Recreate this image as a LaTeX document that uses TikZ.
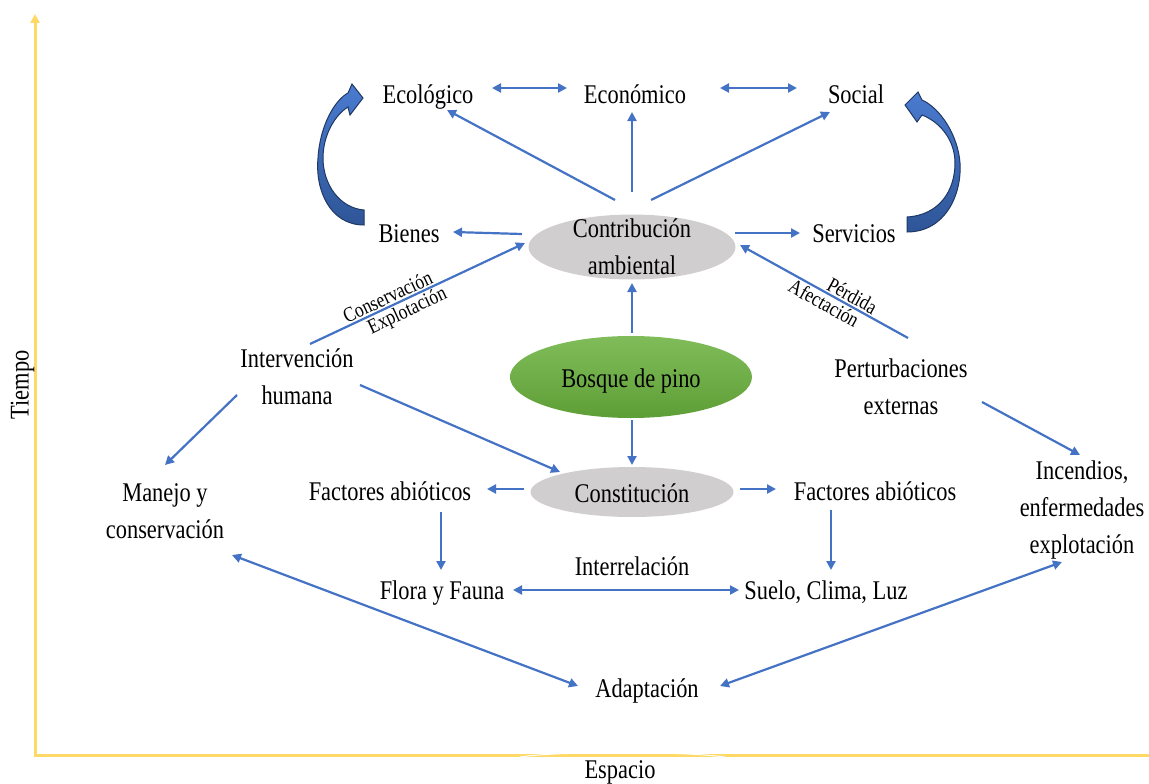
\documentclass[tikz,border=0pt]{standalone}
\usepackage{fontspec}
\setmainfont{Liberation Serif}[FakeStretch=0.83]
\usetikzlibrary{arrows.meta,calc,shapes.geometric}
\definecolor{arrblue}{HTML}{4472C4}
\definecolor{axisyel}{HTML}{FFD966}
\definecolor{ellgray}{HTML}{D0CECE}
\definecolor{darkblue}{HTML}{203864}
\definecolor{blockA}{HTML}{4A7BD0}
\definecolor{blockB}{HTML}{2E5597}
\definecolor{greenA}{HTML}{80BD5A}
\definecolor{greenB}{HTML}{5E9E36}
\begin{document}
\begin{tikzpicture}[x=1pt,y=-1pt,
  lbl/.style={font=\fontsize{27}{37}\selectfont, inner sep=0pt, text height=19pt, text depth=6pt},
  mlbl/.style={font=\fontsize{27}{37}\selectfont, inner sep=0pt, align=center},
  small/.style={font=\fontsize{21}{24}\selectfont, inner sep=1.5pt, sloped},
  arr/.style={draw=arrblue, line width=2.2pt, -{Triangle[length=9pt,width=9pt]}},
  darr/.style={draw=arrblue, line width=2.2pt, {Triangle[length=9pt,width=9pt]}-{Triangle[length=9pt,width=9pt]}},
  oval/.style={ellipse, inner sep=0pt, draw=none},
  axis/.style={draw=axisyel, line width=3pt},
  bigarrow/.style={draw=darkblue, line width=1pt, top color=blockA, bottom color=blockB}
]
\useasboundingbox (0,0) rectangle (1149,784);

% axes
\coordinate (origin) at (35,755);
\coordinate (ytop) at (35,14);
\coordinate (xend) at (1149,755);
\draw[axis, -{Triangle[length=9pt,width=9pt]}] (origin) -- (ytop);
\draw[axis] ($(origin)+(-1.5,0)$) -- (xend);
\draw[white, line width=1pt] (520,757) .. controls (560,751) and (680,751) .. (725,757);
\node[lbl, rotate=90] (tiempo) at (22,385) {Tiempo};
\node[lbl] (espacio) at (620,771.5) {Espacio};

% ellipses
\node[oval, fill=ellgray, minimum width=207pt, minimum height=65pt] (contrib) at (632,247) {};
\node[mlbl] (contribtxt) at (632,246.5) {Contribución\\ambiental};
\node[oval, top color=greenA, bottom color=greenB, minimum width=242pt, minimum height=82pt] (bosque) at (631,377) {};
\node[lbl] (bosquetxt) at (631,380.5) {Bosque de pino};
\node[oval, fill=ellgray, minimum width=203pt, minimum height=50pt] (const) at (632,492) {};
\node[lbl] (consttxt) at (632,495.5) {Constitución};

% text nodes
\node[lbl] (eco) at (428,96.5) {Ecológico};
\node[lbl] (econ) at (635,96.5) {Económico};
\node[lbl] (social) at (856,96.5) {Social};
\node[lbl] (bienes) at (409,235.5) {Bienes};
\node[lbl] (serv) at (854,235.5) {Servicios};
\node[mlbl] (interv) at (297,376.5) {Intervención\\humana};
\node[mlbl] (pert) at (901,386.5) {Perturbaciones\\externas};
\node[mlbl] (manejo) at (165,511) {Manejo y\\conservación};
\node[lbl] (facL) at (390,493.5) {Factores abióticos};
\node[lbl] (facR) at (875,493.5) {Factores abióticos};
\node[mlbl] (incend) at (1082,510) {Incendios,\\enfermedades\\explotación};
\node[lbl] (flora) at (442,592.5) {Flora y Fauna};
\node[lbl] (interrel) at (632,568.5) {Interrelación};
\node[lbl] (suelo) at (826,592.5) {Suelo, Clima, Luz};
\node[lbl] (adapt) at (647,690.5) {Adaptación};

% connectors
\draw[darr] ($(eco)+(64,-8.5)$) -- ($(econ)+(-68,-8.5)$);
\draw[darr] ($(econ)+(85,-8.5)$) -- ($(social)+(-59,-8.5)$);
\draw[arr] ($(contrib)+(-17,-47)$) -- ($(eco)+(19,13.5)$);
\draw[arr] ($(contrib)+(0,-55)$) -- ($(econ)+(-3,15.5)$);
\draw[arr] ($(contrib)+(19,-47)$) -- ($(social)+(-26,15.5)$);
\draw[arr] ($(contrib)+(-110,-13)$) -- ($(bienes)+(44,-3.5)$);
\draw[arr] ($(contrib)+(103,-14)$) -- ($(serv)+(-54,-2.5)$);
\draw[arr] ($(interv)+(13,-32.5)$) --
  node[small, above, pos=.38] (conslbl) {Conservación}
  node[small, below, pos=.43] (explbl) {Explotación}
  ($(contrib)+(-107,-4)$);
\draw[arr] ($(pert)+(7,-48.5)$) --
  node[small, above, pos=.36] (perdlbl) {Pérdida}
  node[small, below, pos=.47] (afeclbl) {Afectación}
  ($(contrib)+(108,-2)$);
\draw[arr] ($(bosque)+(1,-44)$) -- ($(contrib)+(0,36)$);
\draw[arr] ($(bosque)+(1,43)$) -- ($(const)+(0,-27)$);
\draw[arr] ($(interv)+(63,8.5)$) -- ($(const)+(-72,-20)$);
\draw[arr] ($(interv)+(-60,18.5)$) -- ($(manejo)+(0,-46)$);
\draw[arr] ($(pert)+(81,15.5)$) -- ($(incend)+(-2,-55)$);
\draw[arr] ($(const)+(-108,-3)$) -- ($(facL)+(97,-4.5)$);
\draw[arr] ($(const)+(108,-3)$) -- ($(facR)+(-99,-4.5)$);
\draw[arr] ($(facL)+(51,18.5)$) -- ($(flora)+(-1,-22.5)$);
\draw[arr] ($(facR)+(-44,16.5)$) -- ($(suelo)+(5,-22.5)$);
\draw[darr] ($(flora)+(71,-2.5)$) -- ($(suelo)+(-87,-2.5)$);
\draw[darr] ($(manejo)+(67,44)$) -- ($(adapt)+(-69,-4.5)$);
\draw[darr] ($(incend)+(-20,52)$) -- ($(adapt)+(73,-4.5)$);

% curved block arrows
\draw[bigarrow] (364,225) .. controls (330,225) and (315,190) .. (318,158)
  .. controls (320,125) and (335,100) .. (348,93)
  -- (352,84) -- (363,98) -- (350,115) -- (348,107)
  .. controls (335,115) and (323,135) .. (323,158)
  .. controls (323,185) and (340,208) .. (364,210) -- cycle;
\draw[bigarrow] (907,232) .. controls (945,232) and (962,195) .. (960,163)
  .. controls (958,135) and (940,108) .. (922,100)
  -- (918,92) -- (905,105) -- (917,122) -- (922,115)
  .. controls (940,122) and (955,140) .. (955,163)
  .. controls (955,190) and (940,215) .. (907,217) -- cycle;
\end{tikzpicture}
\end{document}
